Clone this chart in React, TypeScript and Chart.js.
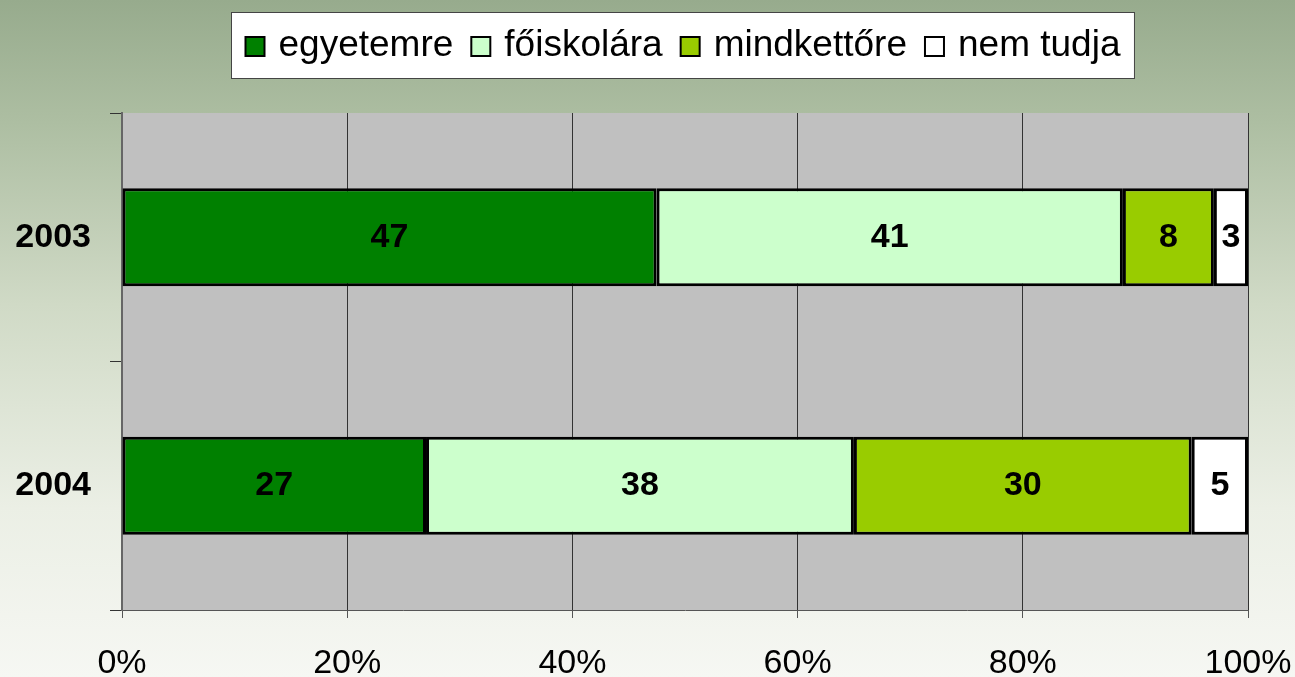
import React, { useEffect, useRef } from "react";
import { Chart, registerables } from "chart.js";

Chart.register(...registerables);

const years = ["2003", "2004"];
const seriesNames = ["egyetemre", "főiskolára", "mindkettőre", "nem tudja"];
const seriesColors = ["#008000", "#CCFFCC", "#99CC00", "#FFFFFF"];
const egyetemre = [47, 27];
const foiskolara = [41, 38];
const mindkettore = [8, 30];
const nemTudja = [3, 5];
const xTicks = [0, 20, 40, 60, 80, 100];

const rawSeries = [egyetemre, foiskolara, mindkettore, nemTudja];
const totals = years.map((_, i) => rawSeries.reduce((s, arr) => s + arr[i], 0));

const FONT = '"Liberation Sans", Arial, sans-serif';

const bgPlugin = {
  id: "bgPlugin",
  beforeDraw(chart: any) {
    const { ctx, width, height, chartArea } = chart;
    ctx.save();
    const g = ctx.createLinearGradient(0, 0, 0, height);
    g.addColorStop(0, "#97ab8d");
    g.addColorStop(0.18, "#adbea2");
    g.addColorStop(0.45, "#d0dac6");
    g.addColorStop(0.75, "#ebefe5");
    g.addColorStop(1, "#f6f7f3");
    ctx.fillStyle = g;
    ctx.fillRect(0, 0, width, height);
    ctx.fillStyle = "#C0C0C0";
    ctx.fillRect(chartArea.left, chartArea.top, chartArea.right - chartArea.left, chartArea.bottom - chartArea.top);
    ctx.restore();
  },
};

const legendPlugin = {
  id: "boxLegend",
  afterDraw(chart: any) {
    const { ctx } = chart;
    ctx.save();
    ctx.font = `37px ${FONT}`;
    const marker = 19;
    const gapMT = 14;
    const gapItems = 18;
    const padX = 14;
    const widths = seriesNames.map((n) => ctx.measureText(n).width);
    const total = widths.reduce((s, w) => s + w + marker + gapMT, 0) + gapItems * (seriesNames.length - 1) + padX * 2;
    const cx = 682.5;
    const boxX = Math.round(cx - total / 2) + 0.5;
    const boxY = 12.5;
    const boxH = 66;
    ctx.fillStyle = "#FFFFFF";
    ctx.fillRect(boxX, boxY, total, boxH);
    ctx.strokeStyle = "#444444";
    ctx.lineWidth = 1;
    ctx.strokeRect(boxX, boxY, total, boxH);
    let x = boxX + padX;
    const cy = boxY + boxH / 2;
    seriesNames.forEach((n, i) => {
      ctx.fillStyle = seriesColors[i];
      ctx.fillRect(x, cy - marker / 2 + 1, marker, marker);
      ctx.strokeStyle = "#000";
      ctx.lineWidth = 2;
      ctx.strokeRect(x, cy - marker / 2 + 1, marker, marker);
      x += marker + gapMT;
      ctx.fillStyle = "#000";
      ctx.textBaseline = "middle";
      ctx.textAlign = "left";
      ctx.fillText(n, x, cy);
      x += widths[i] + gapItems;
    });
    ctx.restore();
  },
};

const labelPlugin = {
  id: "valueLabels",
  afterDatasetsDraw(chart: any) {
    const { ctx } = chart;
    ctx.save();
    ctx.font = `bold 34px ${FONT}`;
    ctx.fillStyle = "#000";
    ctx.textAlign = "center";
    ctx.textBaseline = "middle";
    chart.data.datasets.forEach((ds: any, di: number) => {
      const meta = chart.getDatasetMeta(di);
      meta.data.forEach((el: any, i: number) => {
        const v = rawSeries[di][i];
        const cx = (el.x + el.base) / 2;
        ctx.fillText(String(v), cx, el.y);
      });
    });
    ctx.restore();
  },
};

export default function App() {
  const ref = useRef<HTMLCanvasElement>(null);
  useEffect(() => {
    if (!ref.current) return;
    const chart = new Chart(ref.current, {
      type: "bar",
      data: {
        labels: years,
        datasets: seriesNames.map((name, di) => ({
          label: name,
          data: years.map((_, i) => (rawSeries[di][i] / totals[i]) * 100),
          backgroundColor: seriesColors[di],
          borderColor: "#000000",
          borderWidth: 3,
          borderSkipped: false,
          barPercentage: 0.394,
          categoryPercentage: 1,
        })),
      },
      options: {
        indexAxis: "y",
        responsive: false,
        animation: false,
        layout: { padding: { top: 113, right: 47, left: 0, bottom: 0 } },
        plugins: { legend: { display: false }, tooltip: { enabled: false } },
        scales: {
          x: {
            stacked: true,
            min: 0,
            max: 100,
            afterBuildTicks: (scale: any) => {
              scale.ticks = xTicks.map((v) => ({ value: v }));
            },
            afterFit: (scale: any) => {
              scale.height = 67;
              scale.paddingLeft = 0;
              scale.paddingRight = 0;
            },
            ticks: {
              callback: (v: any) => v + "%",
              font: { family: FONT, size: 34 },
              color: "#000",
              padding: 25,
              maxRotation: 0,
              autoSkip: false,
            },
            grid: {
              color: "#333333",
              lineWidth: 1,
              tickLength: 8,
              tickColor: "#555555",
            },
            border: { display: true, color: "#555555", width: 1 },
          },
          y: {
            stacked: true,
            offset: true,
            afterFit: (scale: any) => {
              scale.width = 122;
              scale.paddingTop = 0;
              scale.paddingBottom = 0;
            },
            ticks: {
              font: { family: FONT, size: 34, weight: "bold" },
              color: "#000",
              padding: 19,
            },
            grid: {
              offset: true,
              drawOnChartArea: false,
              tickLength: 12,
              tickColor: "#333333",
            },
            border: { display: true, color: "#666666", width: 2 },
          },
        },
      },
      plugins: [bgPlugin, labelPlugin, legendPlugin],
    } as any);
    return () => chart.destroy();
  }, []);
  return (
    <div style={{ position: "fixed", left: 0, top: 0, width: 1295, height: 677 }}>
      <canvas ref={ref} width={1295} height={677} style={{ display: "block" }} />
    </div>
  );
}
